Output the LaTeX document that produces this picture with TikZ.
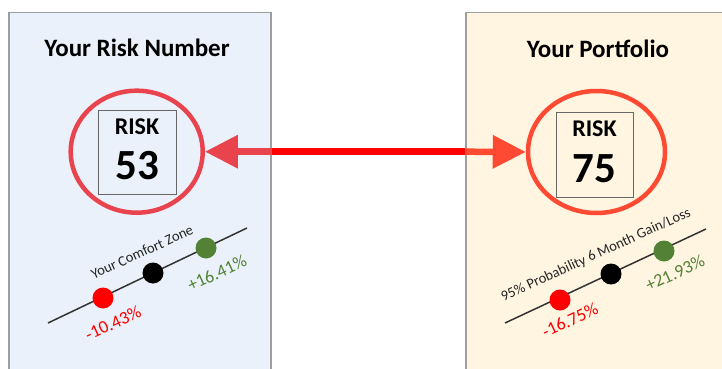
\documentclass[tikz,border=0pt]{standalone}
\usepackage{fontspec}
\setmainfont{Carlito}
\usetikzlibrary{arrows.meta,shapes.geometric}
\definecolor{lpfill}{HTML}{EAF1FA}
\definecolor{rpfill}{HTML}{FFF5E1}
\definecolor{panelborder}{HTML}{9E9E9E}
\definecolor{lring}{HTML}{E9444E}
\definecolor{rring}{HTML}{FF4A33}
\definecolor{gaingreen}{HTML}{538135}
\definecolor{lossred}{HTML}{FF0000}
\definecolor{axisline}{HTML}{333333}
\tikzset{
  panel/.style={draw=panelborder, line width=1.5pt, inner sep=0pt, anchor=north west},
  title/.style={font=\bfseries\fontsize{25}{29}\selectfont, text=black},
  ring/.style={ellipse, draw, line width=4.5pt, inner sep=0pt},
  riskbox/.style={draw=gray!80!black, line width=0.8pt, inner sep=0pt},
  risklbl/.style={font=\bfseries\fontsize{24}{28}\selectfont},
  risknum/.style={font=\bfseries\fontsize{43}{48}\selectfont},
  scaleline/.style={draw=axisline, line width=1.5pt},
  dot/.style={circle, inner sep=0pt, minimum size=21pt},
  scaletxt/.style={font=\fontsize{14.5}{16}\selectfont, rotate=24.5, text=black!85},
  pcttxt/.style={font=\fontsize{18}{20}\selectfont, rotate=25},
  arrtip/.style={-{Triangle[length=33pt,width=32pt]}, line width=6.5pt},
}
\begin{document}
\begin{tikzpicture}[x=1pt,y=-1pt]
\useasboundingbox (0,0) rectangle (722,369);
\clip (0,0) rectangle (722,369);
% panels
\node[panel, fill=lpfill, minimum width=262pt, minimum height=400pt] (lp) at (8,12) {};
\node[panel, fill=rpfill, minimum width=280pt, minimum height=400pt] (rp) at (465,12) {};
% titles
\node[title] (lt) at (137,48) {Your Risk Number};
\node[title] (rt) at (598,49) {Your Portfolio};
% rings
\node[ring, draw=lring, minimum width=132pt, minimum height=122pt] (lc) at (136.7,151.7) {};
\node[ring, draw=rring, minimum width=137pt, minimum height=122pt] (rc) at (596.5,152) {};
% risk boxes
\node[riskbox, minimum width=78pt, minimum height=84pt] (lb) at (137,152) {};
\node[riskbox, minimum width=77pt, minimum height=85pt] (rb) at (594.5,154.5) {};
\node[risklbl] (lrisk) at (137,127) {RISK};
\node[risknum] (lnum) at (137,166) {53};
\node[risklbl] (rrisk) at (594.5,129) {RISK};
\node[risknum] (rnum) at (594.5,169) {75};
% arrow
\coordinate (le) at (lp.east |- lc.east);
\coordinate (re) at (rp.west |- lc.east);
\draw[lossred, line width=6.5pt] (le) -- (re);
\draw[lring, arrtip] (le) -- (lc.east);
\draw[rring, arrtip] (re) -- (rc.west);
% left scale
\coordinate (la) at (48,323);
\coordinate (lz) at (247,228);
\draw[scaleline] (la) -- (lz);
\node[dot, fill=lossred] (ld1) at (103,298) {};
\node[dot, fill=black] (ld2) at (153,273) {};
\node[dot, fill=gaingreen] (ld3) at (206,248) {};
\node[scaletxt] (lst) at (142,252) {Your Comfort Zone};
\node[pcttxt, text=gaingreen] (lg) at (217,273) {+16.41\%};
\node[pcttxt, text=lossred] (ll) at (113,323) {-10.43\%};
% right scale
\coordinate (ra) at (505,323);
\coordinate (rz) at (706,229);
\draw[scaleline] (ra) -- (rz);
\node[dot, fill=lossred] (rd1) at (560,300) {};
\node[dot, fill=black] (rd2) at (611,274) {};
\node[dot, fill=gaingreen] (rd3) at (664,251) {};
\node[scaletxt] (rst) at (596,255) {95\% Probability 6 Month Gain/Loss};
\node[pcttxt, text=gaingreen] (rg) at (675,273) {+21.93\%};
\node[pcttxt, text=lossred] (rl) at (570,320) {-16.75\%};
\end{tikzpicture}
\end{document}
